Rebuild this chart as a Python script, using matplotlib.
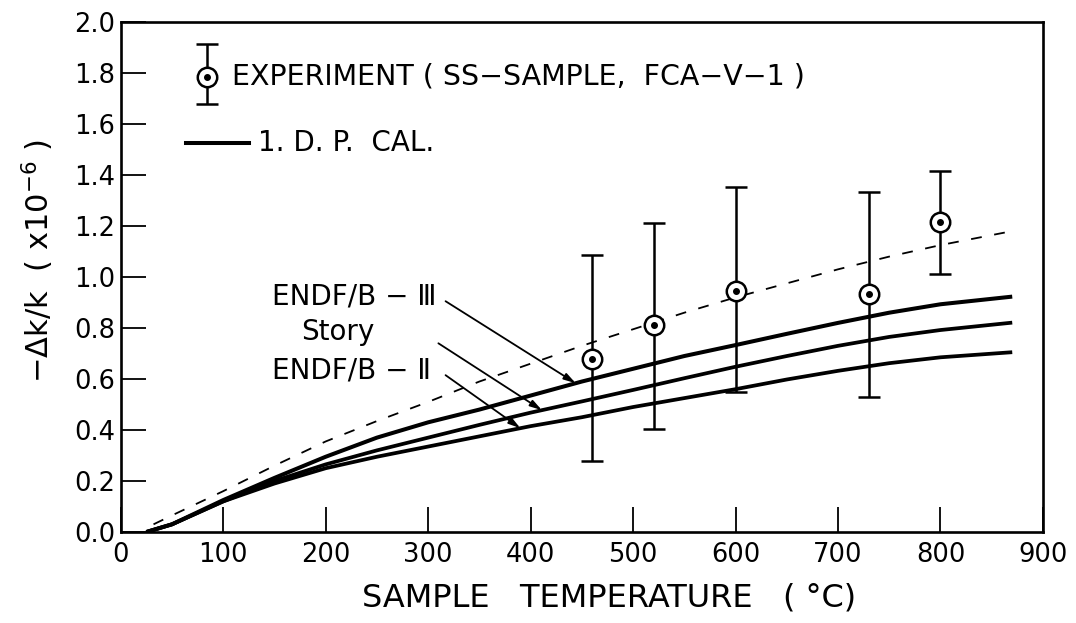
import matplotlib
matplotlib.use("Agg")
import matplotlib.pyplot as plt
import numpy as np

plt.rcParams['font.family'] = ['DejaVu Sans']

# ---------------- data ----------------
exp_temp = [460, 520, 600, 730, 800]
exp_val = [0.68, 0.81, 0.945, 0.933, 1.216]
exp_low = [0.28, 0.403, 0.548, 0.531, 1.01]
exp_high = [1.086, 1.21, 1.354, 1.335, 1.416]

calc_temp = [25, 50, 100, 150, 200, 250, 300, 350, 400, 450, 500, 550, 600, 650, 700, 750, 800, 870]
endf3 = [0.0, 0.03, 0.125, 0.212, 0.295, 0.37, 0.43, 0.48, 0.535, 0.59, 0.64, 0.69, 0.733, 0.777, 0.82, 0.86, 0.893, 0.923]
story = [0.0, 0.03, 0.12, 0.2, 0.265, 0.32, 0.37, 0.42, 0.468, 0.512, 0.557, 0.603, 0.648, 0.69, 0.73, 0.765, 0.792, 0.821]
endf2 = [0.0, 0.03, 0.12, 0.19, 0.25, 0.295, 0.335, 0.375, 0.415, 0.45, 0.49, 0.525, 0.56, 0.598, 0.632, 0.662, 0.685, 0.705]

dash_temp = [32, 50, 100, 150, 200, 250, 300, 350, 400, 450, 500, 550, 600, 650, 700, 750, 800, 870]
dash_val = [0.03, 0.065, 0.16, 0.26, 0.355, 0.435, 0.51, 0.59, 0.66, 0.73, 0.795, 0.86, 0.92, 0.975, 1.03, 1.08, 1.125, 1.18]

xticks = [0, 100, 200, 300, 400, 500, 600, 700, 800, 900]
yticks = [0.0, 0.2, 0.4, 0.6, 0.8, 1.0, 1.2, 1.4, 1.6, 1.8, 2.0]

labels = ["ENDF/B − Ⅲ", "Story", "ENDF/B − Ⅱ"]
label_pos = [(148, 0.925), (176, 0.785), (148, 0.635)]
arrow_start = [(317, 0.905), (310, 0.74), (317, 0.615)]
arrow_end_x = [444, 411, 390]

# ---------------- figure ----------------
fig = plt.figure(figsize=(10.76, 6.23), dpi=100)
ax = fig.add_axes([0.1122, 0.1461, 0.8571, 0.8186])

ax.set_xlim(0, 900)
ax.set_ylim(0, 2.0)

for s in ['left', 'bottom', 'right', 'top']:
    ax.spines[s].set_linewidth(1.9)

ax.set_xticks(xticks)
ax.set_yticks(yticks)
ax.set_xticklabels([str(v) for v in xticks])
ax.set_yticklabels([f"{v:.1f}" for v in yticks])
ax.tick_params(direction='in', length=18, width=1.3, labelsize=18.5,
               top=False, right=False)
ax.tick_params(axis='x', pad=7)
ax.tick_params(axis='y', pad=4)

# calculated curves
ax.plot(calc_temp, endf3, color='black', lw=2.9, solid_capstyle='butt')
ax.plot(calc_temp, story, color='black', lw=2.7, solid_capstyle='butt')
ax.plot(calc_temp, endf2, color='black', lw=2.7, solid_capstyle='butt')
ax.plot(dash_temp, dash_val, color='black', lw=1.3, dashes=(6, 7))

# experiment
yerr = [np.array(exp_val) - np.array(exp_low), np.array(exp_high) - np.array(exp_val)]
ax.errorbar(exp_temp, exp_val, yerr=yerr, fmt='none', ecolor='black',
            elinewidth=1.8, capsize=8, capthick=1.8, zorder=3)
ax.plot(exp_temp, exp_val, 'o', ms=14, mfc='white', mec='black', mew=1.8, zorder=4)
ax.plot(exp_temp, exp_val, 'o', ms=4, color='black', zorder=5)

# legend (manual)
lx, ly = 84, 1.785
ax.errorbar([lx], [ly], yerr=[[0.105], [0.13]], fmt='none', ecolor='black',
            elinewidth=1.8, capsize=8, capthick=1.8, zorder=3)
ax.plot([lx], [ly], 'o', ms=14, mfc='white', mec='black', mew=1.8, zorder=4)
ax.plot([lx], [ly], 'o', ms=4, color='black', zorder=5)
ax.text(109, ly, "EXPERIMENT ( SS−SAMPLE,  FCA−V−1 )", fontsize=20.5,
        va='center', ha='left')

ax.plot([64, 125], [1.525, 1.525], color='black', lw=2.9)
ax.text(134, 1.525, "1. D. P.  CAL.", fontsize=20, va='center', ha='left')

# annotations
curves = [endf3, story, endf2]
for lab, (tx, ty), (sx, sy), ex, cv in zip(labels, label_pos, arrow_start, arrow_end_x, curves):
    ax.text(tx, ty, lab, fontsize=20, va='center', ha='left')
    ey = float(np.interp(ex, calc_temp, cv))
    ax.annotate("", xy=(ex, ey), xytext=(sx, sy),
                arrowprops=dict(arrowstyle='-|>,head_length=0.7,head_width=0.2',
                                color='black', lw=1.3, shrinkA=0, shrinkB=0))

ax.set_xlabel("SAMPLE   TEMPERATURE   ( °C)", fontsize=23)
ax.xaxis.set_label_coords(0.53, -0.1)
ax.set_ylabel("−Δk/k  ( x10$^{-6}$ )", fontsize=22)
ax.yaxis.set_label_coords(-0.07, 0.53)

fig.savefig("out.png", dpi=100, facecolor='white')
